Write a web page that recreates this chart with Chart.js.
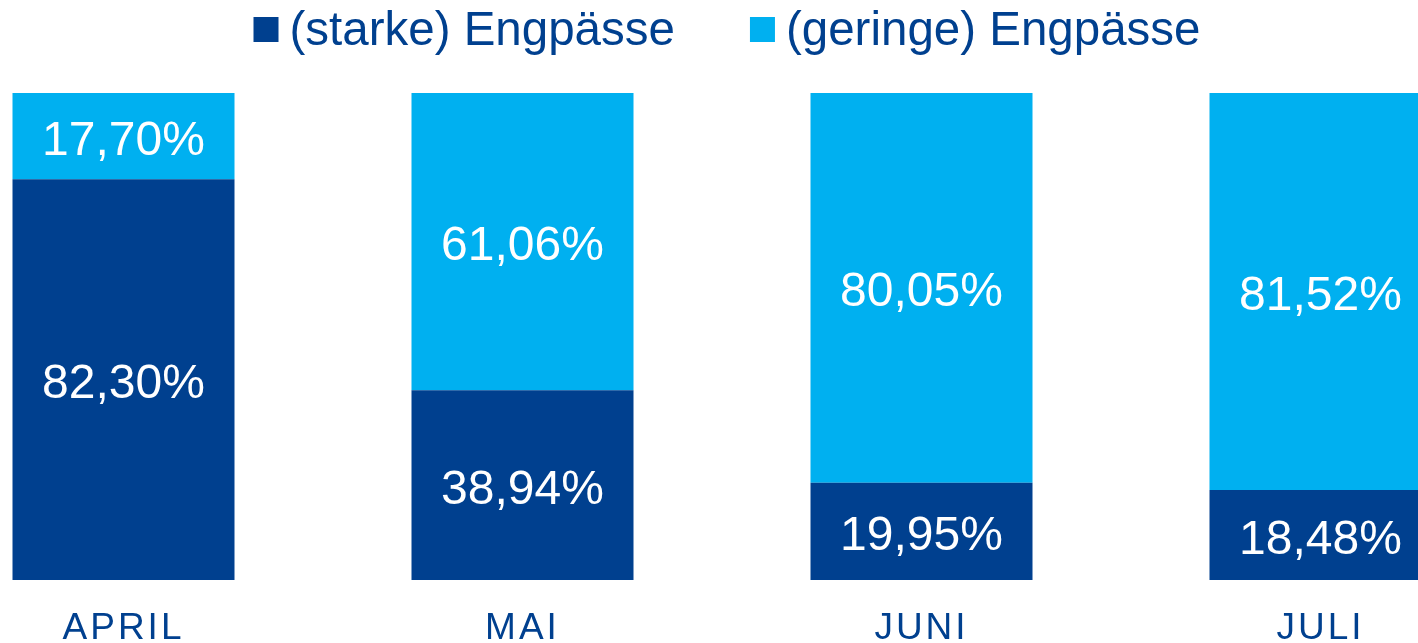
<!DOCTYPE html>
<html lang="de">
<head>
    <meta charset="UTF-8">
    <title>Engpässe April - Juli</title>
    <script src="https://cdn.jsdelivr.net/npm/chart.js@4.4.1/dist/chart.umd.min.js"></script>
    <style>
        html, body {
            margin: 0;
            padding: 0;
            background: #ffffff;
            overflow: hidden;
            width: 1418px;
            height: 643px;
        }
        #wrap {
            position: absolute;
            left: -76.5px;
            top: 0;
            width: 1596px;
            height: 643px;
        }
    </style>
</head>
<body>
    <div id="wrap">
        <canvas id="chart" width="1596" height="643"></canvas>
    </div>

    <script>
        // Daten
        const categories = ['APRIL', 'MAI', 'JUNI', 'JULI'];
        const starkeEngpaesse = [82.30, 38.94, 19.95, 18.48];
        const geringeEngpaesse = [17.70, 61.06, 80.05, 81.52];
        const seriesNames = ['(starke) Engpässe', '(geringe) Engpässe'];

        const DARK = '#00408F';
        const LIGHT = '#00B0F0';
        const FONT = '"Liberation Sans", Arial, sans-serif';

        function fmt(v) {
            return v.toFixed(2).replace('.', ',') + '%';
        }

        // Werte, Monatsnamen und Legende selbst zeichnen
        const labelPlugin = {
            id: 'labels',
            afterDatasetsDraw(chart) {
                const ctx = chart.ctx;
                ctx.save();

                // Prozentwerte in den Balken
                ctx.font = '48px ' + FONT;
                ctx.fillStyle = '#ffffff';
                ctx.textAlign = 'center';
                ctx.textBaseline = 'alphabetic';
                chart.data.datasets.forEach((ds, di) => {
                    chart.getDatasetMeta(di).data.forEach((bar, i) => {
                        const mid = (bar.y + bar.base) / 2;
                        ctx.fillText(fmt(ds.data[i]), bar.x, mid + 18.5);
                    });
                });

                // Monatsnamen unter den Balken
                const xs = chart.scales.x;
                ctx.font = '37px ' + FONT;
                ctx.letterSpacing = '3px';
                ctx.fillStyle = DARK;
                categories.forEach((c, i) => {
                    ctx.fillText(c, xs.getPixelForValue(i), 638.5);
                });
                ctx.letterSpacing = '0px';

                // Legende oben
                ctx.font = '47.5px ' + FONT;
                ctx.textAlign = 'left';
                let x = 253 + 76.5;
                chart.data.datasets.forEach((ds) => {
                    ctx.fillStyle = ds.backgroundColor;
                    ctx.fillRect(x, 17, 25, 25);
                    ctx.fillStyle = DARK;
                    ctx.fillText(ds.label, x + 36, 44.5);
                    x += 36 + ctx.measureText(ds.label).width + 75;
                });

                ctx.restore();
            }
        };

        new Chart(document.getElementById('chart'), {
            type: 'bar',
            data: {
                labels: categories,
                datasets: [{
                    label: seriesNames[0],
                    data: starkeEngpaesse,
                    backgroundColor: DARK,
                    borderWidth: 0
                }, {
                    label: seriesNames[1],
                    data: geringeEngpaesse,
                    backgroundColor: LIGHT,
                    borderWidth: 0
                }]
            },
            options: {
                responsive: false,
                animation: false,
                devicePixelRatio: 1,
                layout: {
                    padding: { top: 93, bottom: 63, left: 0, right: 0 }
                },
                datasets: {
                    bar: {
                        categoryPercentage: 1,
                        barPercentage: 222 / 399
                    }
                },
                plugins: {
                    legend: { display: false },
                    tooltip: { enabled: false }
                },
                scales: {
                    x: { stacked: true, display: false },
                    y: { stacked: true, display: false, min: 0, max: 100 }
                }
            },
            plugins: [labelPlugin]
        });
    </script>
</body>
</html>
